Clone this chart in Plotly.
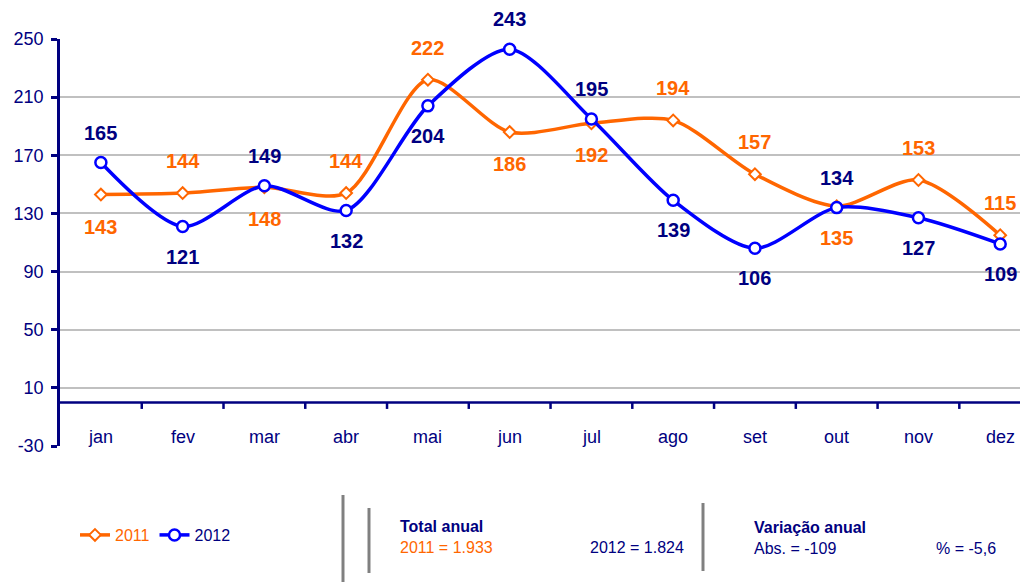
import plotly.graph_objects as go

months = ["jan", "fev", "mar", "abr", "mai", "jun", "jul", "ago", "set", "out", "nov", "dez"]
v2011 = [143, 144, 148, 144, 222, 186, 192, 194, 157, 135, 153, 115]
v2012 = [165, 121, 149, 132, 204, 243, 195, 139, 106, 134, 127, 109]
# label side: +1 above, -1 below
pos2011 = [-1, 1, -1, 1, 1, -1, -1, 1, 1, -1, 1, 1]
pos2012 = [1, -1, 1, -1, -1, 1, 1, -1, -1, 1, -1, -1]
yticks = [-30, 10, 50, 90, 130, 170, 210, 250]
yticktext = ["-30", "10", "50", "90", "130", "170", "210", "250"]

ORANGE = "#ff6600"
BLUE = "#0000ff"
NAVY = "#000080"
FONT = "Liberation Sans, Arial"

xs = list(range(len(months)))
fig = go.Figure()
fig.add_trace(go.Scatter(
    x=xs, y=v2011, mode="lines+markers", line=dict(color=ORANGE, width=3.5, shape="spline", smoothing=0.8),
    marker=dict(symbol="diamond", size=9, color="white", line=dict(color=ORANGE, width=2)),
    name="<span style='color:#ff6600'>2011</span>"))
fig.add_trace(go.Scatter(
    x=xs, y=v2012, mode="lines+markers", line=dict(color=BLUE, width=3.5, shape="spline", smoothing=0.8),
    marker=dict(symbol="circle", size=11, color="white", line=dict(color=BLUE, width=2.5)),
    name="<span style='color:#000080'>2012</span>"))

ann = []
for i, (v, p) in enumerate(zip(v2011, pos2011)):
    ann.append(dict(x=i, y=v, text=f"<b>{v}</b>", showarrow=False, yshift=32 * p,
                    font=dict(family=FONT, size=20, color=ORANGE)))
for i, (v, p) in enumerate(zip(v2012, pos2012)):
    ann.append(dict(x=i, y=v, text=f"<b>{v}</b>", showarrow=False, yshift=30 * p,
                    font=dict(family=FONT, size=20, color=NAVY)))
for i, m in enumerate(months):
    ann.append(dict(x=i, y=-30, text=m, showarrow=False, yanchor="bottom", yshift=-3,
                    font=dict(family=FONT, size=18, color=NAVY)))

def txt(x, y, t, color=NAVY, bold=False, anchor="left"):
    ann.append(dict(xref="paper", yref="paper", x=x, y=y, text=f"<b>{t}</b>" if bold else t,
                    showarrow=False, xanchor=anchor, yanchor="middle",
                    font=dict(family=FONT, size=16, color=color)))

def px(xp):
    return (xp - 60) / 968.0

def py(yp):
    return (446 - yp) / 407.0

txt(px(398), py(526), "Total anual", bold=True)
txt(px(398), py(547), "2011 = 1.933", color=ORANGE)
txt(px(686), py(547), "2012 = 1.824", anchor="right")
txt(px(752), py(527), "Variação anual", bold=True)
txt(px(752), py(548), "Abs. = -109")
txt(px(998), py(548), "% = -5,6", anchor="right")

shapes = [dict(type="line", xref="x", yref="y", x0=-0.5, x1=11.4, y0=0, y1=0,
               line=dict(color=NAVY, width=2.5))]
for i in range(len(months) - 1):
    shapes.append(dict(type="line", xref="x", yref="y", x0=i + 0.5, x1=i + 0.5, y0=0, y1=-4.5,
                       line=dict(color=NAVY, width=2.5)))
for xp, y0, y1 in [(343, 495, 582), (369, 508, 573), (703, 503, 571)]:
    shapes.append(dict(type="line", xref="paper", yref="paper", x0=px(xp), x1=px(xp),
                       y0=py(y0), y1=py(y1), line=dict(color="#808080", width=3)))

# page body has an 8px default margin: shrink the figure and offset margins accordingly
fig.update_layout(
    width=1020, height=574, margin=dict(l=52, r=0, t=31, b=136, autoexpand=False),
    paper_bgcolor="white", plot_bgcolor="white",
    font=dict(family=FONT, size=16, color=NAVY),
    xaxis=dict(range=[-0.5, 11.34], showgrid=False, zeroline=False, showticklabels=False,
               showline=False, fixedrange=True, automargin=False),
    yaxis=dict(range=[-30, 250], tickvals=yticks, ticktext=yticktext, showgrid=True,
               gridcolor="#c0c0c0", gridwidth=2, automargin=False,
               zeroline=False, showline=True, linecolor=NAVY, linewidth=2.5, ticks="outside",
               ticklen=6, tickwidth=2.5, tickcolor=NAVY, tickfont=dict(family=FONT, size=18, color=NAVY),
               ticklabelstandoff=4),
    showlegend=True,
    legend=dict(orientation="h", x=px(75), y=py(535), xanchor="left", yanchor="middle",
                font=dict(family=FONT, size=16), bgcolor="rgba(0,0,0,0)", itemwidth=30,
                tracegroupgap=0),
    annotations=ann, shapes=shapes,
)
fig.write_html("out.html")
